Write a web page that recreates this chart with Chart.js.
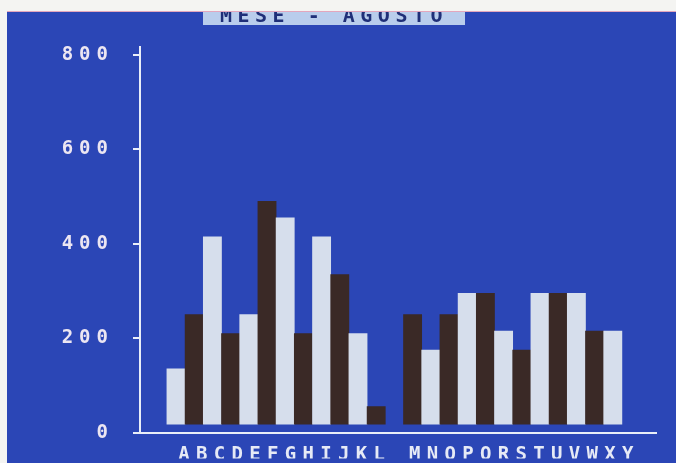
<!DOCTYPE html>
<html>
<head>
  <meta charset="UTF-8" />
  <title>Mese - Agosto</title>
  <style>
    body { margin: 0; background: #f4f4f2; width: 676px; height: 463px; overflow: hidden; position: relative; }
    #screen { position: absolute; left: 7px; top: 12px; width: 669px; height: 451px; background: #2b46b6; box-shadow: 0 -1px 0 #e3a7bd; }
    #screen canvas { display: block; }
  </style>
</head>
<body>
  <div id="screen"><canvas id="chart" width="669" height="451"></canvas></div>
  <script src="https://cdn.jsdelivr.net/npm/chart.js"></script>
  <script>
    const title = 'MESE - AGOSTO';
    // one character per slot of the bottom text line (blank between L and M)
    const letters = ['A','B','C','D','E','F','G','H','I','J','K','L',' ','M','N','O','P','Q','R','S','T','U','V','W','X','Y'];
    // bar slots, null = empty slot between the two groups
    const values = [135, 250, 415, 210, 250, 490, 455, 210, 415, 335, 210, 55, null,
                    250, 175, 250, 295, 295, 215, 175, 295, 295, 295, 215, 215];
    const yTicks = [0, 200, 400, 600, 800];

    const light = '#d6deec';
    const dark = '#3a2926';
    const white = '#e9eef8';
    const pixelFont = { family: 'DejaVu Sans Mono', size: 19, weight: 'bold' };

    const screenText = {
      id: 'screenText',
      beforeDraw(chart) {
        chart.ctx.letterSpacing = '6px';
      },
      afterDraw(chart) {
        const ctx = chart.ctx;
        ctx.save();
        ctx.fillStyle = '#b9cdec';
        ctx.fillRect(196, 0, 262, 13);
        ctx.font = 'bold 20px "DejaVu Sans Mono"';
        ctx.letterSpacing = '5.5px';
        ctx.fillStyle = '#1f2f78';
        ctx.textBaseline = 'alphabetic';
        ctx.fillText(title, 213, 10);
        ctx.restore();
      }
    };

    new Chart(document.getElementById('chart'), {
      type: 'bar',
      data: {
        datasets: [{
          data: values.map((v, i) => ({ x: i, y: v })).filter(p => p.y !== null),
          backgroundColor: c => (c.raw && c.raw.x % 2) ? dark : light,
          base: 18,
          barPercentage: 1,
          categoryPercentage: 1,
          borderWidth: 0,
          xAxisID: 'x',
          yAxisID: 'y'
        }]
      },
      options: {
        responsive: false,
        animation: false,
        layout: { padding: { top: 35, right: 20, bottom: 0, left: 0 } },
        plugins: { legend: { display: false }, tooltip: { enabled: false } },
        scales: {
          x: { type: 'linear', display: false, offset: false, min: -1.978, max: 26.374 },
          xl: {
            type: 'linear',
            position: 'bottom',
            offset: false,
            min: -2.648,
            max: 26.42,
            afterBuildTicks: s => { s.ticks = letters.map((l, i) => ({ value: i })); },
            afterFit: s => { s.height = 26; },
            grid: { display: false, offset: false },
            border: { color: white, width: 2 },
            ticks: {
              autoSkip: false,
              maxRotation: 0,
              padding: 3,
              color: '#e6eaf6',
              font: pixelFont,
              callback: v => letters[v] || ''
            }
          },
          y: {
            min: 0,
            max: 817,
            afterBuildTicks: s => { s.ticks = yTicks.map(v => ({ value: v })); },
            afterFit: s => { s.width = 133; },
            grid: { drawOnChartArea: false, drawTicks: true, tickLength: 7, color: white, lineWidth: 2 },
            border: { color: white, width: 2 },
            ticks: { padding: 19, color: '#ece6f2', font: pixelFont, callback: v => v }
          }
        }
      },
      plugins: [screenText]
    });
  </script>
</body>
</html>
